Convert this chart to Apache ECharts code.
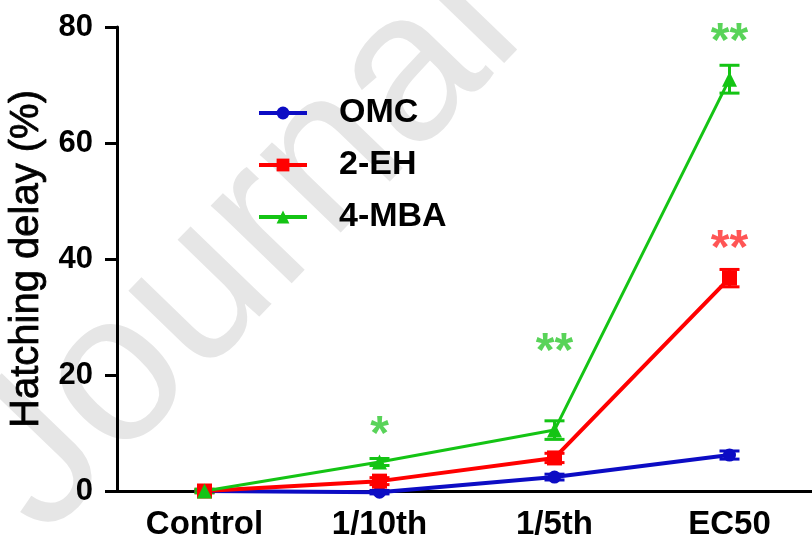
<!DOCTYPE html>
<html>
<head>
<meta charset="utf-8">
<script src="https://cdn.jsdelivr.net/npm/echarts@6/dist/echarts.min.js"></script>
<style>html,body{margin:0;padding:0;background:#fff}#c{width:812px;height:546px}</style>
</head>
<body>
<div id="c"></div>
<script>
const categories = ['Control', '1/10th', '1/5th', 'EC50'];
const yTicks = [0, 20, 40, 60, 80];
const omc = [0, -0.2, 2.4, 6.2];
const omcErr = [0, 0.3, 0.5, 0.7];
const eh = [0, 1.7, 5.7, 36.7];
const ehErr = [0.3, 0.6, 0.8, 1.5];
const mba = [0, 5.0, 10.5, 71.0];
const mbaErr = [0.3, 0.6, 1.6, 2.4];
const sigGreen = [[1, 11.2, '*'], [2, 25.6, '**'], [3, 79, '**']];
const sigRed = [[3, 43.3, '**']];

const BLUE = '#0c0cc4', RED = '#ff0000', GREEN = '#14c414';
const FONT = 'Liberation Sans, Arial, sans-serif';

function errSeries(name, vals, errs, color) {
  return {
    type: 'custom', name: name + ' err', silent: true, z: 3,
    data: vals.map((v, i) => [i, v - errs[i], v + errs[i]]),
    renderItem: function (params, api) {
      const lo = api.coord([api.value(0), api.value(1)]);
      const hi = api.coord([api.value(0), api.value(2)]);
      const w = 10;
      const style = { stroke: color, lineWidth: 3 };
      return { type: 'group', children: [
        { type: 'line', shape: { x1: lo[0], y1: lo[1], x2: hi[0], y2: hi[1] }, style },
        { type: 'line', shape: { x1: lo[0] - w, y1: lo[1], x2: lo[0] + w, y2: lo[1] }, style },
        { type: 'line', shape: { x1: hi[0] - w, y1: hi[1], x2: hi[0] + w, y2: hi[1] }, style }
      ]};
    }
  };
}

function sigSeries(data, color) {
  return {
    type: 'scatter', symbolSize: 0, silent: true, z: 6,
    data: data.map(d => ({ value: [d[0], d[1]], label: { formatter: d[2] } })),
    label: { show: true, position: 'inside', color: color, fontSize: 48, fontFamily: FONT, fontWeight: 'bold', offset: [0, 10] }
  };
}

const chart = echarts.init(document.getElementById('c'), null, { renderer: 'canvas' });
chart.setOption({
  animation: false,
  backgroundColor: '#ffffff',
  graphic: [{
    type: 'text', z: -10, silent: true,
    x: 2, y: 499, rotation: 46 * Math.PI / 180,
    style: { text: 'Journal Pre-proof', fontSize: 212, fontFamily: FONT, fill: '#e6e6e6', align: 'left', verticalAlign: 'middle' }
  }],
  grid: { left: 117, top: 27, bottom: 55, width: 700, outerBoundsMode: 'none', containLabel: false },
  legend: {
    orient: 'vertical', left: 257, top: 96, padding: 0,
    itemWidth: 48, itemHeight: 16, itemGap: 18,
    data: ['OMC', '2-EH', '4-MBA'],
    lineStyle: { width: 4 },
    textStyle: { fontSize: 34, fontWeight: 'bold', fontFamily: FONT, color: '#000', lineHeight: 34, padding: [0, 0, 0, 27] }
  },
  xAxis: {
    type: 'category', data: categories, boundaryGap: true,
    axisLine: { lineStyle: { color: '#000', width: 3 } },
    axisTick: { alignWithLabel: true, length: 10, lineStyle: { color: '#000', width: 3 } },
    axisLabel: { fontSize: 33, fontWeight: 'bold', fontFamily: FONT, color: '#000', margin: 17 },
    splitLine: { show: false }
  },
  yAxis: {
    type: 'value', min: 0, max: 80, interval: 20,
    name: 'Hatching delay (%)', nameLocation: 'middle', nameGap: 70,
    nameTextStyle: { fontSize: 40, fontFamily: FONT, color: '#000', textBorderColor: '#000', textBorderWidth: 0.8 },
    axisLine: { show: true, lineStyle: { color: '#000', width: 3 } },
    axisTick: { show: true, length: 12, lineStyle: { color: '#000', width: 3 } },
    axisLabel: { fontSize: 31, fontWeight: 'bold', fontFamily: FONT, color: '#000', margin: 24,
      formatter: v => yTicks.includes(v) ? String(v) : '' },
    splitLine: { show: false }
  },
  series: [
    errSeries('OMC', omc, omcErr, BLUE),
    errSeries('2-EH', eh, ehErr, RED),
    errSeries('4-MBA', mba, mbaErr, GREEN),
    { type: 'line', name: 'OMC', data: omc, color: BLUE, symbol: 'circle', symbolSize: 13,
      lineStyle: { width: 4, color: BLUE }, itemStyle: { color: BLUE }, z: 4, clip: false },
    { type: 'line', name: '2-EH', data: eh, color: RED, symbol: 'rect', symbolSize: 15,
      lineStyle: { width: 4, color: RED }, itemStyle: { color: RED }, z: 4, clip: false },
    { type: 'line', name: '4-MBA', data: mba, color: GREEN, symbol: 'triangle', symbolSize: 15,
      lineStyle: { width: 3, color: GREEN }, itemStyle: { color: GREEN }, z: 4, clip: false },
    sigSeries(sigGreen, '#2fc82f'),
    sigSeries(sigRed, '#ff2a2a')
  ]
});
</script>
</body>
</html>
